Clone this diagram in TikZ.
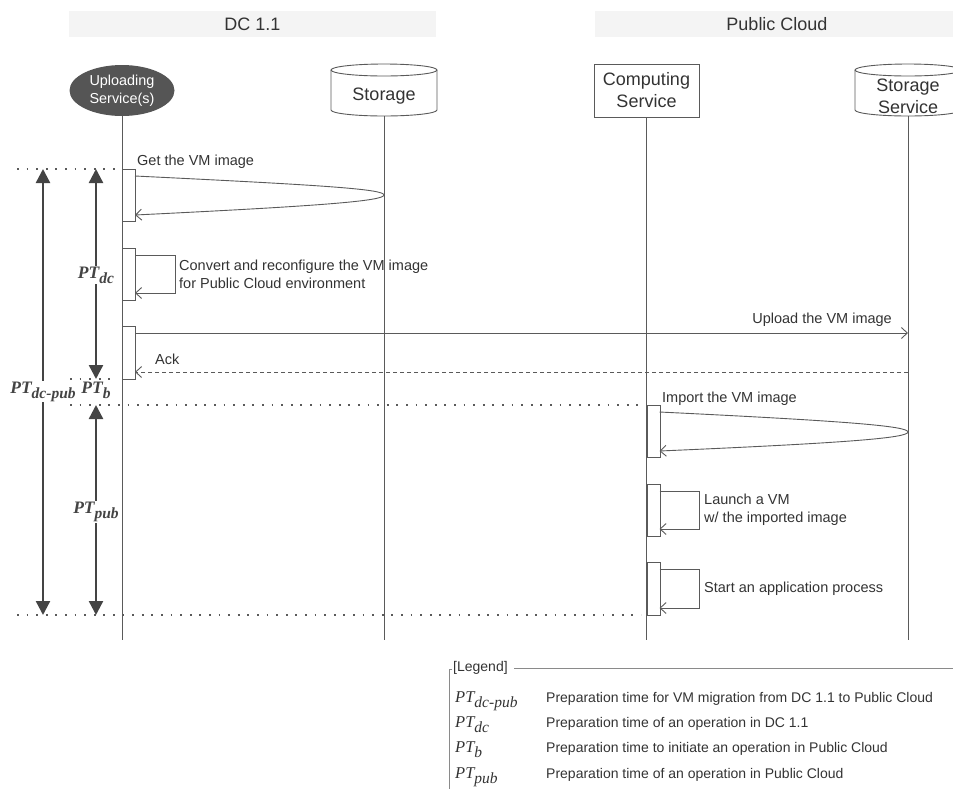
\documentclass[tikz,border=0pt]{standalone}
\usepackage{fontspec}
\setmainfont{Liberation Sans}
\newfontfamily\ptfont{Liberation Serif}
\usetikzlibrary{shapes.geometric,arrows.meta}
\definecolor{ln}{HTML}{5A5A5A}
\definecolor{tx}{HTML}{333333}
\definecolor{band}{HTML}{F4F4F4}
\definecolor{dark}{HTML}{555555}
\definecolor{ptc}{HTML}{444444}
\definecolor{legc}{HTML}{8A8A8A}
\newcommand{\ptlab}[1]{{\ptfont\bfseries\itshape\fontsize{17.5}{18}\selectfont PT\raisebox{-5pt}{\fontsize{15.5}{15}\selectfont #1}}}
\newcommand{\ptleg}[1]{{\ptfont\itshape\fontsize{16.5}{18}\selectfont PT\raisebox{-5pt}{\fontsize{15.5}{15}\selectfont #1}}}
\begin{document}
\begin{tikzpicture}[x=1pt,y=-1pt,
  hdr/.style={fill=band, minimum height=26pt, font=\fontsize{18}{20}\selectfont, text=tx, inner sep=0},
  head/.style={font=\fontsize{18}{22}\selectfont, text=tx, inner sep=0, align=center},
  life/.style={draw=ln, line width=0.9pt},
  act/.style={draw=ln, fill=white, line width=0.9pt, minimum width=13pt, inner sep=0, anchor=north west},
  msg/.style={draw=ln, line width=0.9pt, -{Straight Barb[length=6pt,width=11pt]}},
  lbl/.style={font=\fontsize{14.5}{18}\selectfont, text=tx, inner sep=0, align=left},
  dots/.style={draw=ln, line width=1.8pt, dash pattern=on 1.8pt off 7.8pt},
  ptarr/.style={draw=ptc, line width=2.4pt, {Triangle[length=14pt,width=14pt]}-{Triangle[length=14pt,width=14pt]}},
  ptl/.style={fill=white, inner sep=1pt, text=ptc},
  legtxt/.style={font=\fontsize{14}{16}\selectfont, text=tx, inner sep=0, anchor=base west},
  legpt/.style={text=tx, inner sep=0, anchor=base west},
]
\useasboundingbox (0,0) rectangle (953,788);
\clip (0,0) rectangle (953,788);

% headers
\node[hdr, minimum width=367pt] (dc) at (252.5,24) {DC 1.1};
\node[hdr, minimum width=364pt] (pc) at (777,24) {Public Cloud};

% participants
\node[ellipse, fill=dark, minimum width=105pt, minimum height=51pt, inner sep=0, text=white, align=center, font=\fontsize{14.4}{18}\selectfont] (up) at (122,90.5) {Uploading\\Service(s)};
% storage cylinder
\draw[ln, line width=0.9pt, fill=white] (331,70) -- (331,110) arc[start angle=180, end angle=360, x radius=53pt, y radius=6pt] -- (437,70);
\draw[ln, line width=0.9pt, fill=white] (384,70) ellipse[x radius=53pt, y radius=6pt];
\node[head] (st) at (384,96) {Storage};
\draw[ln, line width=0.9pt, fill=white] (855,70) -- (855,110) arc[start angle=180, end angle=360, x radius=53pt, y radius=6pt] -- (961,70);
\draw[ln, line width=0.9pt, fill=white] (908,70) ellipse[x radius=53pt, y radius=6pt];
\node[head] (ss) at (908,96) {Storage\\Service};
\node[head, draw=ln, line width=0.9pt, minimum width=105pt, minimum height=53pt] (cs) at (646.5,90.5) {Computing\\Service};

% lifelines
\coordinate (upTop) at (122,116);
\coordinate (upEnd) at (122,640);
\coordinate (stTop) at (384,116);
\coordinate (stEnd) at (384,640);
\coordinate (ssTop) at (908,116);
\coordinate (ssEnd) at (908,640);
\coordinate (csEnd) at (646.5,640);
\draw[life] (upTop) -- (upEnd);
\draw[life] (stTop) -- (stEnd);
\draw[life] (ssTop) -- (ssEnd);
\draw[life] (cs.south) -- (csEnd);

% activation boxes
\node[act, minimum height=52pt] (a1) at (122,169) {};
\node[act, minimum height=52pt] (a2) at (122,248) {};
\node[act, minimum height=53pt] (a3) at (122,326) {};
\node[act, minimum height=52pt] (c1) at (646.5,405) {};
\node[act, minimum height=52pt] (c2) at (646.5,484) {};
\node[act, minimum height=53pt] (c3) at (646.5,562) {};

% Get the VM image
\coordinate (g1) at (135,176);
\coordinate (gs) at (384,195);
\coordinate (g2) at (135,215);
\draw[msg] (g1) .. controls (320,185) and (384,189) .. (gs) .. controls (384,201) and (320,206) .. (g2);
\node[lbl, anchor=west] (lg) at (137,162) {Get the VM image};

% Convert loop
\coordinate (cv1) at (135,255);
\coordinate (cv2) at (175,255);
\coordinate (cv3) at (175,293);
\coordinate (cv4) at (135,293);
\draw[msg] (cv1) -- (cv2) -- (cv3) -- (cv4);
\node[lbl, anchor=west] (lcv) at (179,274) {Convert and reconfigure the VM image\\for Public Cloud environment};

% Upload
\coordinate (u1) at (135,333);
\coordinate (u2) at (908,333);
\draw[msg] (u1) -- (u2);
\node[lbl, anchor=east] (lu) at (892,320) {Upload the VM image};

% Ack
\coordinate (k1) at (908,372);
\coordinate (k2) at (135,372);
\draw[msg, dash pattern=on 4pt off 3pt] (k1) -- (k2);
\node[lbl, anchor=west] (lk) at (155,359) {Ack};

% Import
\coordinate (i1) at (659.5,412);
\coordinate (is) at (908,432);
\coordinate (i2) at (659.5,451);
\draw[msg] (i1) .. controls (845,421) and (908,426) .. (is) .. controls (908,438) and (845,443) .. (i2);
\node[lbl, anchor=west] (li) at (662,399) {Import the VM image};

% Launch loop
\coordinate (l1) at (659.5,491);
\coordinate (l2) at (699,491);
\coordinate (l3) at (699,529);
\coordinate (l4) at (659.5,529);
\draw[msg] (l1) -- (l2) -- (l3) -- (l4);
\node[lbl, anchor=west] (ll) at (704,510) {Launch a VM\\w/ the imported image};

% Start loop
\coordinate (s1) at (659.5,569);
\coordinate (s2) at (699,569);
\coordinate (s3) at (699,608);
\coordinate (s4) at (659.5,608);
\draw[msg] (s1) -- (s2) -- (s3) -- (s4);
\node[lbl, anchor=west] (ls) at (704,589) {Start an application process};

% dotted guides
\draw[dots] (17,169) -- (116,169);
\draw[dots] (70,379) -- (116,379);
\draw[dots] (70,405) -- (641,405);
\draw[dots] (17,615) -- (641,615);

% PT arrows
\coordinate (pA1) at (43,169);
\coordinate (pA2) at (43,615);
\draw[ptarr] (pA1) -- (pA2);
\node[ptl, anchor=base] (ptdcpub) at (43,393) {\ptlab{dc-pub}};
\coordinate (pB1) at (96,169);
\coordinate (pB2) at (96,379);
\draw[ptarr] (pB1) -- (pB2);
\node[ptl] (ptdc) at (96,275) {\ptlab{dc}};
\node[inner sep=0, text=ptc, anchor=base] (ptb) at (96,393) {\ptlab{b}};
\coordinate (pC1) at (96,405);
\coordinate (pC2) at (96,615);
\draw[ptarr] (pC1) -- (pC2);
\node[ptl] (ptpub) at (96,512) {\ptlab{pub}};

% legend
\draw[legc, line width=0.8pt] (452,669) -- (449,669) -- (449,792);
\draw[legc, line width=0.8pt] (514,668) -- (956,668);
\node[font=\fontsize{14}{16}\selectfont, text=tx, inner sep=0, anchor=west] (lgd) at (453,668) {[Legend]};
\node[legpt] (lp1) at (455,702) {\ptleg{dc-pub}};
\node[legtxt] (lt1) at (546,702) {Preparation time for VM migration from DC 1.1 to Public Cloud};
\node[legpt] (lp2) at (455,727) {\ptleg{dc}};
\node[legtxt] (lt2) at (546,727) {Preparation time of an operation in DC 1.1};
\node[legpt] (lp3) at (455,752) {\ptleg{b}};
\node[legtxt] (lt3) at (546,752) {Preparation time to initiate an operation in Public Cloud};
\node[legpt] (lp4) at (455,778) {\ptleg{pub}};
\node[legtxt] (lt4) at (546,778) {Preparation time of an operation in Public Cloud};
\end{tikzpicture}
\end{document}
